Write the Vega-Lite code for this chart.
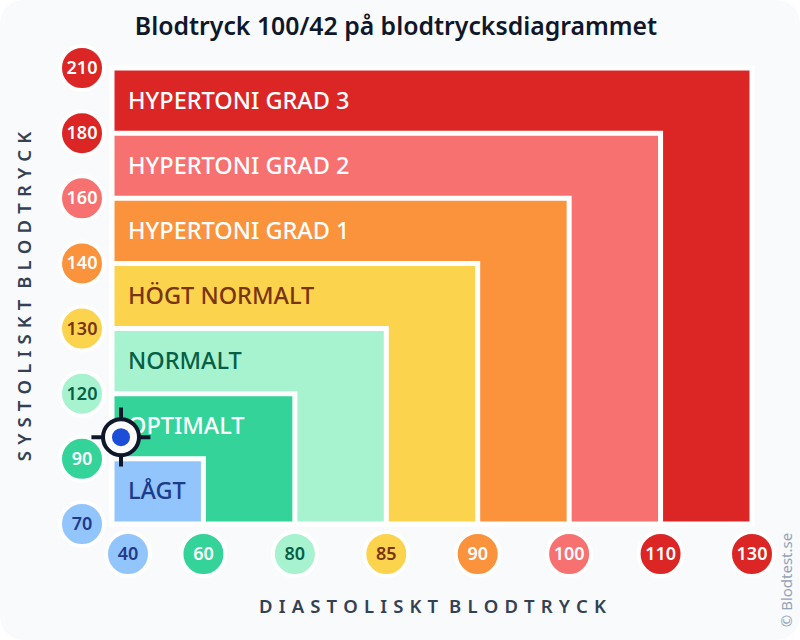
{
"$schema":"https://vega.github.io/schema/vega-lite/v6.json",
"width":640,"height":456,
"autosize":{"type":"none"},
"padding":{"left":112,"top":68,"right":48,"bottom":116},
"background":"#ffffff",
"config":{"view":{"stroke":null},"font":"Noto Sans"},
"title":{"text":"Blodtryck 100/42 på blodtrycksdiagrammet","font":"Noto Sans","fontSize":24.8,"fontWeight":600,"color":"#0f172a","anchor":"middle","dx":-36,"offset":-40},
"datasets":{
"frame":[{"x":15.5,"x2":140.5,"y":34.4,"y2":241.3}],
"zones":[
{"zone":"HYPERTONI GRAD 3","x":40,"x2":130,"y":70,"y2":210,"lx":43.5,"ly":195},
{"zone":"HYPERTONI GRAD 2","x":40,"x2":110,"y":70,"y2":180,"lx":43.5,"ly":170},
{"zone":"HYPERTONI GRAD 1","x":40,"x2":100,"y":70,"y2":160,"lx":43.5,"ly":150},
{"zone":"HÖGT NORMALT","x":40,"x2":90,"y":70,"y2":140,"lx":43.5,"ly":135},
{"zone":"NORMALT","x":40,"x2":85,"y":70,"y2":130,"lx":43.5,"ly":125},
{"zone":"OPTIMALT","x":40,"x2":80,"y":70,"y2":120,"lx":43.5,"ly":105},
{"zone":"LÅGT","x":40,"x2":60,"y":70,"y2":90,"lx":43.5,"ly":80}
],
"ticks":[
{"label":"210","zone":"HYPERTONI GRAD 3","x":33.44,"y":210},
{"label":"180","zone":"HYPERTONI GRAD 3","x":33.44,"y":180},
{"label":"160","zone":"HYPERTONI GRAD 2","x":33.44,"y":160},
{"label":"140","zone":"HYPERTONI GRAD 1","x":33.44,"y":140},
{"label":"130","zone":"HÖGT NORMALT","x":33.44,"y":130},
{"label":"120","zone":"NORMALT","x":33.44,"y":120},
{"label":"90","zone":"OPTIMALT","x":33.44,"y":90},
{"label":"70","zone":"LÅGT","x":33.44,"y":70},
{"label":"40","zone":"LÅGT","x":43.5,"y":60.79},
{"label":"60","zone":"OPTIMALT","x":60,"y":60.79},
{"label":"80","zone":"NORMALT","x":80,"y":60.79},
{"label":"85","zone":"HÖGT NORMALT","x":85,"y":60.79},
{"label":"90","zone":"HYPERTONI GRAD 1","x":90,"y":60.79},
{"label":"100","zone":"HYPERTONI GRAD 2","x":100,"y":60.79},
{"label":"110","zone":"HYPERTONI GRAD 3","x":110,"y":60.79},
{"label":"130","zone":"HYPERTONI GRAD 3","x":130,"y":60.79}
],
"marker":[{"x":41.97,"y":100,"xa":35.5,"xb":48.4,"ya":87.65,"yb":113.65}],
"credit":[{"x":137.66,"y":52.8,"label":"© Blodtest.se"}]
},
"encoding":{
"x":{"field":"x","type":"quantitative","scale":{"domain":[40,60,80,85,90,100,110,130],"range":[0,91.43,182.86,274.29,365.71,457.14,548.57,640],"nice":false,"zero":false},
"axis":{"zindex":1,"domain":false,"ticks":false,"labels":false,"grid":false,"title":"D\u2009\u2009I\u2009\u2009A\u2009\u2009S\u2009\u2009T\u2009\u2009O\u2009\u2009L\u2009\u2009I\u2009\u2009S\u2009\u2009K\u2009\u2009T\u2009 \u2009B\u2009\u2009L\u2009\u2009O\u2009\u2009D\u2009\u2009T\u2009\u2009R\u2009\u2009Y\u2009\u2009C\u2009\u2009K","titleFont":"Noto Sans","titleFontSize":18.5,"titleFontWeight":600,"titleColor":"#334155","titlePadding":73}},
"y":{"field":"y","type":"quantitative","scale":{"domain":[70,90,120,130,140,160,180,210],"range":[456,390.86,325.71,260.57,195.43,130.29,65.14,0],"nice":false,"zero":false},
"axis":{"zindex":1,"domain":false,"ticks":false,"labels":false,"grid":false,"title":"S\u2009\u2009Y\u2009\u2009S\u2009\u2009T\u2009\u2009O\u2009\u2009L\u2009\u2009I\u2009\u2009S\u2009\u2009K\u2009\u2009T\u2009 \u2009B\u2009\u2009L\u2009\u2009O\u2009\u2009D\u2009\u2009T\u2009\u2009R\u2009\u2009Y\u2009\u2009C\u2009\u2009K","titleFont":"Noto Sans","titleFontSize":18.5,"titleFontWeight":600,"titleColor":"#334155","titlePadding":78}}
},
"layer":[
{"data":{"name":"frame"},"mark":{"type":"rect","fill":"#f8fafc","cornerRadius":24},"encoding":{"x2":{"field":"x2"},"y2":{"field":"y2"}}},
{"data":{"name":"zones"},"mark":{"type":"rect","stroke":"#ffffff","strokeWidth":5},"encoding":{"x2":{"field":"x2"},"y2":{"field":"y2"},
"fill":{"field":"zone","type":"nominal","legend":null,"scale":{"domain":["HYPERTONI GRAD 3","HYPERTONI GRAD 2","HYPERTONI GRAD 1","HÖGT NORMALT","NORMALT","OPTIMALT","LÅGT"],"range":["#dc2626","#f87171","#fb923c","#fcd34d","#a7f3d0","#34d399","#93c5fd"]}}}},
{"data":{"name":"zones"},"mark":{"type":"text","align":"left","baseline":"middle","dy":1,"font":"Noto Sans","fontSize":23.5,"fontWeight":500},"encoding":{"x":{"field":"lx","type":"quantitative"},"y":{"field":"ly","type":"quantitative"},"text":{"field":"zone"},
"color":{"field":"zone","type":"nominal","legend":null,"scale":{"domain":["HYPERTONI GRAD 3","HYPERTONI GRAD 2","HYPERTONI GRAD 1","HÖGT NORMALT","NORMALT","OPTIMALT","LÅGT"],"range":["#ffffff","#ffffff","#ffffff","#78350f","#065f46","#ffffff","#1e3a8a"]}}}},
{"data":{"name":"ticks"},"mark":{"type":"point","shape":"circle","filled":true,"size":1936,"opacity":1,"stroke":"#ffffff","strokeWidth":4},"encoding":{
"fill":{"field":"zone","type":"nominal","legend":null,"scale":{"domain":["HYPERTONI GRAD 3","HYPERTONI GRAD 2","HYPERTONI GRAD 1","HÖGT NORMALT","NORMALT","OPTIMALT","LÅGT"],"range":["#dc2626","#f87171","#fb923c","#fcd34d","#a7f3d0","#34d399","#93c5fd"]}}}},
{"data":{"name":"ticks"},"mark":{"type":"text","align":"center","baseline":"middle","dy":1,"font":"Noto Sans","fontSize":18,"fontWeight":600},"encoding":{"text":{"field":"label"},
"color":{"field":"zone","type":"nominal","legend":null,"scale":{"domain":["HYPERTONI GRAD 3","HYPERTONI GRAD 2","HYPERTONI GRAD 1","HÖGT NORMALT","NORMALT","OPTIMALT","LÅGT"],"range":["#ffffff","#ffffff","#ffffff","#78350f","#065f46","#ffffff","#1e3a8a"]}}}},
{"data":{"name":"credit"},"mark":{"type":"text","angle":270,"align":"center","baseline":"middle","font":"Noto Sans","fontSize":15,"color":"#94a3b8"},"encoding":{"text":{"field":"label"}}},
{"data":{"name":"marker"},"mark":{"type":"rule","color":"#0f172a","strokeWidth":4},"encoding":{"x":{"field":"xa","type":"quantitative"},"x2":{"field":"xb"}}},
{"data":{"name":"marker"},"mark":{"type":"rule","color":"#0f172a","strokeWidth":4},"encoding":{"y":{"field":"ya","type":"quantitative"},"y2":{"field":"yb"}}},
{"data":{"name":"marker"},"mark":{"type":"point","shape":"circle","filled":true,"size":1296,"opacity":1,"fill":"#ffffff","stroke":"#0f172a","strokeWidth":4}},
{"data":{"name":"marker"},"mark":{"type":"point","shape":"circle","filled":true,"size":324,"opacity":1,"fill":"#1d4ed8"}}
],
"resolve":{"scale":{"color":"independent","fill":"independent"}}
}
